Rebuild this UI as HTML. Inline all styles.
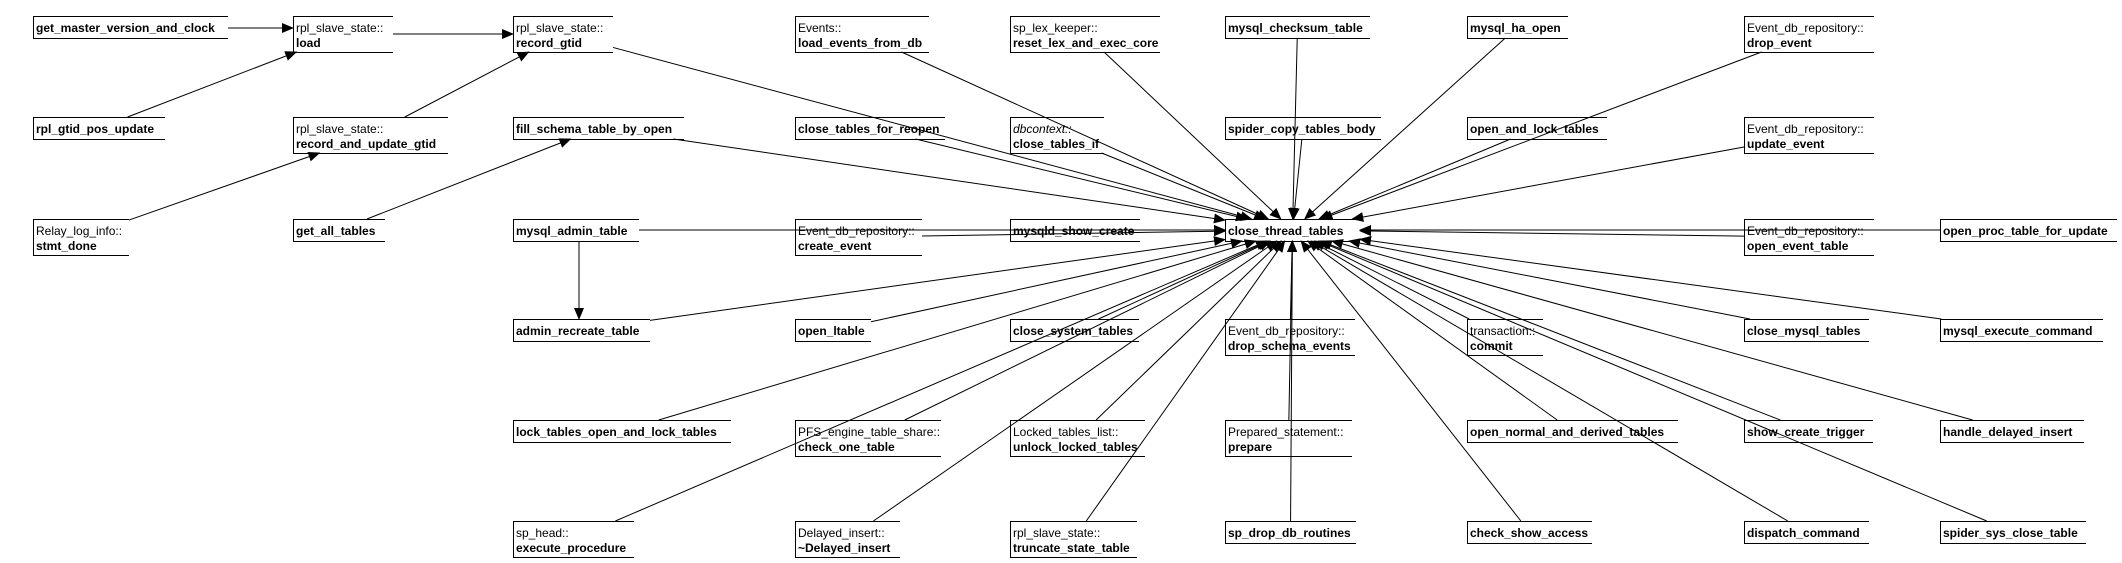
<!DOCTYPE html>
<html><head><meta charset="utf-8">
<style>
html,body{margin:0;padding:0;background:#fff;}
svg text{font-family:"Liberation Sans",sans-serif;font-size:12px;fill:#000;}
.b{font-weight:bold;}
</style></head>
<body>
<svg id="s" width="2122" height="558" xmlns="http://www.w3.org/2000/svg">
<defs><marker id="a" markerWidth="12" markerHeight="10" refX="11" refY="5" orient="auto" markerUnits="userSpaceOnUse"><path d="M0,0 L12,5 L0,10 z" fill="#000"/></marker></defs>
<g id="edges" stroke="#000" stroke-width="1" fill="none"></g>
<g id="nodes"></g>
</svg>
<script>
var R=[16,117,219,319,420,521];
var N=[
["gm",33,228,0,"","get_master_version_and_clock"],
["load",293,393,0,"rpl_slave_state::","load"],
["rg",513,613,0,"rpl_slave_state::","record_gtid"],
["gpu",33,165,1,"","rpl_gtid_pos_update"],
["raug",293,448,1,"rpl_slave_state::","record_and_update_gtid"],
["fs",513,684,1,"","fill_schema_table_by_open"],
["sd",33,129,2,"Relay_log_info::","stmt_done"],
["gat",293,385,2,"","get_all_tables"],
["mat",513,639,2,"","mysql_admin_table"],
["art",513,650,3,"","admin_recreate_table"],
["lt",513,731,4,"","lock_tables_open_and_lock_tables"],
["sph",513,634,5,"sp_head::","execute_procedure"],
["le",795,929,0,"Events::","load_events_from_db"],
["rl",1010,1160,0,"sp_lex_keeper::","reset_lex_and_exec_core"],
["mct",1225,1370,0,"","mysql_checksum_table"],
["ctr",795,945,1,"","close_tables_for_reopen"],
["cti",1010,1104,1,"<i>dbcontext::</i>","close_tables_if"],
["sct",1225,1381,1,"","spider_copy_tables_body"],
["ce",795,922,2,"Event_db_repository::","create_event"],
["msc",1010,1140,2,"","mysqld_show_create"],
["T",1225,1360,2,"","close_thread_tables"],
["ol",795,871,3,"","open_ltable"],
["cst",1010,1139,3,"","close_system_tables"],
["dse",1225,1355,3,"Event_db_repository::","drop_schema_events"],
["cot",795,941,4,"PFS_engine_table_share::","check_one_table"],
["ult",1010,1145,4,"Locked_tables_list::","unlock_locked_tables"],
["pr",1225,1352,4,"Prepared_statement::","prepare"],
["di",795,900,5,"Delayed_insert::","~Delayed_insert"],
["tst",1010,1137,5,"rpl_slave_state::","truncate_state_table"],
["sddr",1225,1356,5,"","sp_drop_db_routines"],
["mho",1467,1568,0,"","mysql_ha_open"],
["de",1744,1874,0,"Event_db_repository::","drop_event"],
["olt",1467,1607,1,"","open_and_lock_tables"],
["ue",1744,1874,1,"Event_db_repository::","update_event"],
["oet",1744,1874,2,"Event_db_repository::","open_event_table"],
["optu",1940,2117,2,"","open_proc_table_for_update"],
["tc",1467,1543,3,"transaction::","commit"],
["cmt",1744,1869,3,"","close_mysql_tables"],
["mec",1940,2103,3,"","mysql_execute_command"],
["ondt",1467,1678,4,"","open_normal_and_derived_tables"],
["sctr",1744,1873,4,"","show_create_trigger"],
["hdi",1940,2084,4,"","handle_delayed_insert"],
["csa",1467,1592,5,"","check_show_access"],
["dc",1744,1869,5,"","dispatch_command"],
["ssct",1940,2086,5,"","spider_sys_close_table"]
];
var B={},h="";
N.forEach(function(n){
 var y=R[n[3]],H=n[4]?36:22,x1=n[1],x2=n[2];
 B[n[0]]={x1:x1,x2:x2,y1:y,y2:y+H};
 h+='<path d="M'+x2+','+(y+0.5)+' H'+(x1+0.5)+' V'+(y+H+0.5)+' H'+x2+'" stroke="#000" fill="none"/>';
 if(n[4]){h+='<text x="'+(x1+3)+'" y="'+(y+16)+'">'+n[4].replace(/<\/?i>/g,'')+'</text>';
   h+='<text class="b" x="'+(x1+3)+'" y="'+(y+31)+'">'+n[5]+'</text>';}
 else h+='<text class="b" x="'+(x1+3)+'" y="'+(y+16)+'">'+n[5]+'</text>';
});
document.getElementById("nodes").innerHTML=h.replace('>dbcontext::<',' font-style="italic">dbcontext::<');
function clip(b,cx,cy,dx,dy){
 var t=1e9;
 if(dx>0)t=Math.min(t,(b.x2-cx)/dx); if(dx<0)t=Math.min(t,(b.x1-cx)/dx);
 if(dy>0)t=Math.min(t,(b.y2-cy)/dy); if(dy<0)t=Math.min(t,(b.y1-cy)/dy);
 return [cx+dx*t,cy+dy*t];
}
var E=[["gm","load"],["load","rg"],["gpu","load"],["raug","rg"],["sd","raug"],["gat","fs"],["mat","art"]];
["rg","fs","mat","art","lt","sph","le","rl","mct","ctr","cti","sct","ce","msc","ol","cst","dse","cot","ult","pr","di","tst","sddr","mho","de","olt","ue","oet","optu","tc","cmt","mec","ondt","sctr","hdi","csa","dc","ssct"].forEach(function(s){E.push([s,"T"]);});
var eh="";
E.forEach(function(e){
 var a=B[e[0]],b=B[e[1]];
 var ax=(a.x1+a.x2)/2,ay=(a.y1+a.y2)/2,bx=(b.x1+b.x2)/2,by=(b.y1+b.y2)/2;
 if(e[0]=="mat"&&e[1]=="art"){ax=579;bx=579;}
 if(e[0]=="gm"){ay=28;by=28;}
 var dx=bx-ax,dy=by-ay;
 var p=clip(a,ax,ay,dx,dy),q=clip(b,bx,by,-dx,-dy);
 eh+='<line x1="'+p[0]+'" y1="'+p[1]+'" x2="'+q[0]+'" y2="'+q[1]+'" marker-end="url(#a)"/>';
});
document.getElementById("edges").innerHTML=eh;
</script>
</body></html>
